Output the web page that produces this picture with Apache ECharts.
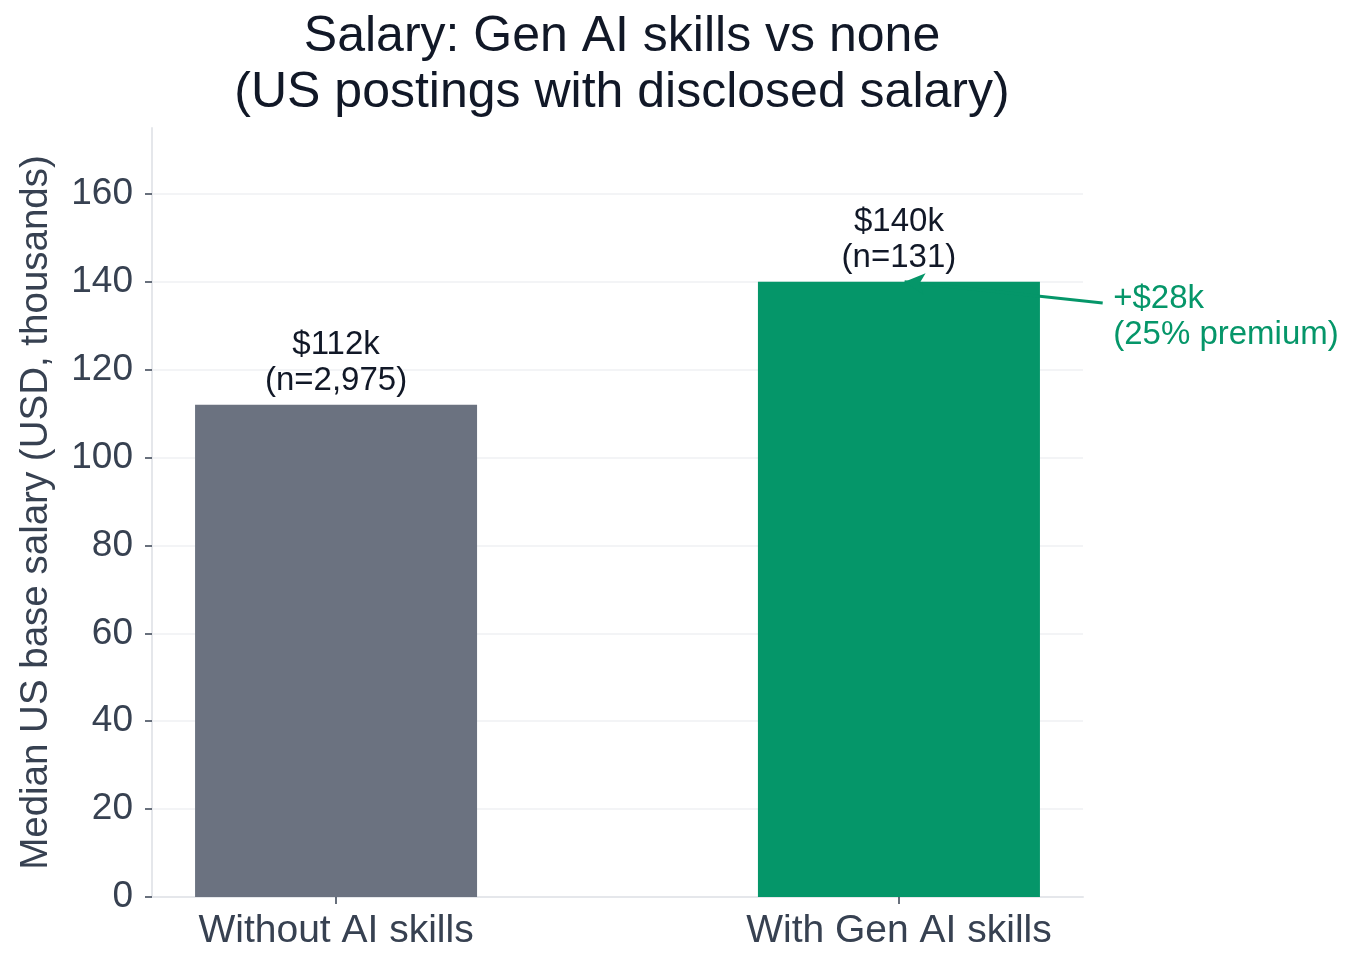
<!DOCTYPE html>
<html>
<head>
<meta charset="utf-8">
<script src="https://cdn.jsdelivr.net/npm/echarts@6/dist/echarts.min.js"></script>
<style>
  html, body { margin: 0; padding: 0; background: #fff; }
  #chart { width: 1361px; height: 973px; }
</style>
</head>
<body>
<div id="chart"></div>
<script>
// data
const categories = ['Without AI skills', 'With Gen AI skills'];
const medianSalary = [112, 140];
const sampleSizes = ['2,975', '131'];
const yTicks = [0, 20, 40, 60, 80, 100, 120, 140, 160];
const premiumLines = ['+$28k', '(25% premium)'];
const arrowTail = [1.362, 135.2];
const arrowHead = [1.01, 140];

const barColors = ['#6b7280', '#059669'];
const accent = '#059669';
const font = '"Liberation Sans", Arial, Helvetica, sans-serif';

// plot x-range; the annotation grid reuses the same scale but runs to the page edge
const xMin = -0.327, xMax = 1.327;
const plotLeft = 152, plotRight = 278, pageW = 1361;
const xMaxWide = xMin + (xMax - xMin) * (pageW - plotLeft) / (pageW - plotRight - plotLeft);

const chart = echarts.init(document.getElementById('chart'), null, { renderer: 'canvas' });

const option = {
  animation: false,
  backgroundColor: '#ffffff',
  textStyle: { fontFamily: font },
  title: {
    text: 'Salary: Gen AI skills vs none\n(US postings with disclosed salary)',
    left: 617,
    textAlign: 'center',
    top: 4,
    textStyle: { fontSize: 50, fontWeight: 'normal', color: '#111827', lineHeight: 56, fontFamily: font }
  },
  grid: [
    { left: plotLeft, right: plotRight, top: 128, bottom: 76 },
    { left: plotLeft, right: 0, top: 128, bottom: 76 }
  ],
  xAxis: [
    {
      type: 'value',
      gridIndex: 0,
      min: xMin,
      max: xMax,
      axisLine: { show: true, onZero: false, lineStyle: { color: '#e5e7eb', width: 2 } },
      axisTick: { show: true, customValues: [0, 1], length: 7, lineStyle: { color: '#374151', width: 1.5 } },
      axisLabel: {
        customValues: [0, 1],
        formatter: v => categories[Math.round(v)],
        fontSize: 39, color: '#374151', margin: 15, fontFamily: font
      },
      splitLine: { show: false }
    },
    {
      type: 'value',
      gridIndex: 1,
      min: xMin,
      max: xMaxWide,
      show: false
    }
  ],
  yAxis: [
    {
      type: 'value',
      gridIndex: 0,
      min: 0,
      max: 175,
      interval: 20,
      name: 'Median US base salary (USD, thousands)',
      nameLocation: 'middle',
      nameGap: 96,
      nameTextStyle: { fontSize: 38.5, color: '#374151', fontFamily: font },
      axisLine: { show: true, onZero: false, lineStyle: { color: '#e5e7eb', width: 2 } },
      axisTick: { show: true, customValues: yTicks, length: 7, lineStyle: { color: '#374151', width: 1.5 } },
      axisLabel: { customValues: yTicks, fontSize: 37, color: '#374151', margin: 19, fontFamily: font },
      splitLine: { show: true, lineStyle: { color: '#f3f4f6', width: 2 } }
    },
    {
      type: 'value',
      gridIndex: 1,
      min: 0,
      max: 175,
      show: false
    }
  ],
  series: [
    {
      type: 'scatter',
      xAxisIndex: 1,
      yAxisIndex: 1,
      z: 1,
      symbolSize: 1,
      itemStyle: { color: 'rgba(0,0,0,0)', opacity: 1 },
      silent: true,
      data: [arrowTail],
      label: {
        show: true,
        position: 'right',
        distance: 10,
        offset: [0, 14],
        align: 'left',
        fontSize: 33,
        lineHeight: 36,
        color: accent,
        opacity: 1,
        fontFamily: font,
        formatter: () => premiumLines.join('\n')
      },
      markLine: {
        silent: true,
        symbol: ['none', 'arrow'],
        symbolSize: [16, 20],
        label: { show: false },
        lineStyle: { color: accent, width: 3, type: 'solid' },
        data: [[{ coord: arrowTail }, { coord: arrowHead }]]
      }
    },
    {
      type: 'bar',
      z: 2,
      barWidth: 282,
      data: medianSalary.map((v, i) => ({ value: [i, v], itemStyle: { color: barColors[i] } })),
      label: {
        show: true,
        position: 'top',
        distance: 6,
        fontSize: 33,
        lineHeight: 36,
        color: '#111827',
        fontFamily: font,
        formatter: p => '$' + medianSalary[p.dataIndex] + 'k\n(n=' + sampleSizes[p.dataIndex] + ')'
      }
    }
  ]
};

chart.setOption(option);
</script>
</body>
</html>
